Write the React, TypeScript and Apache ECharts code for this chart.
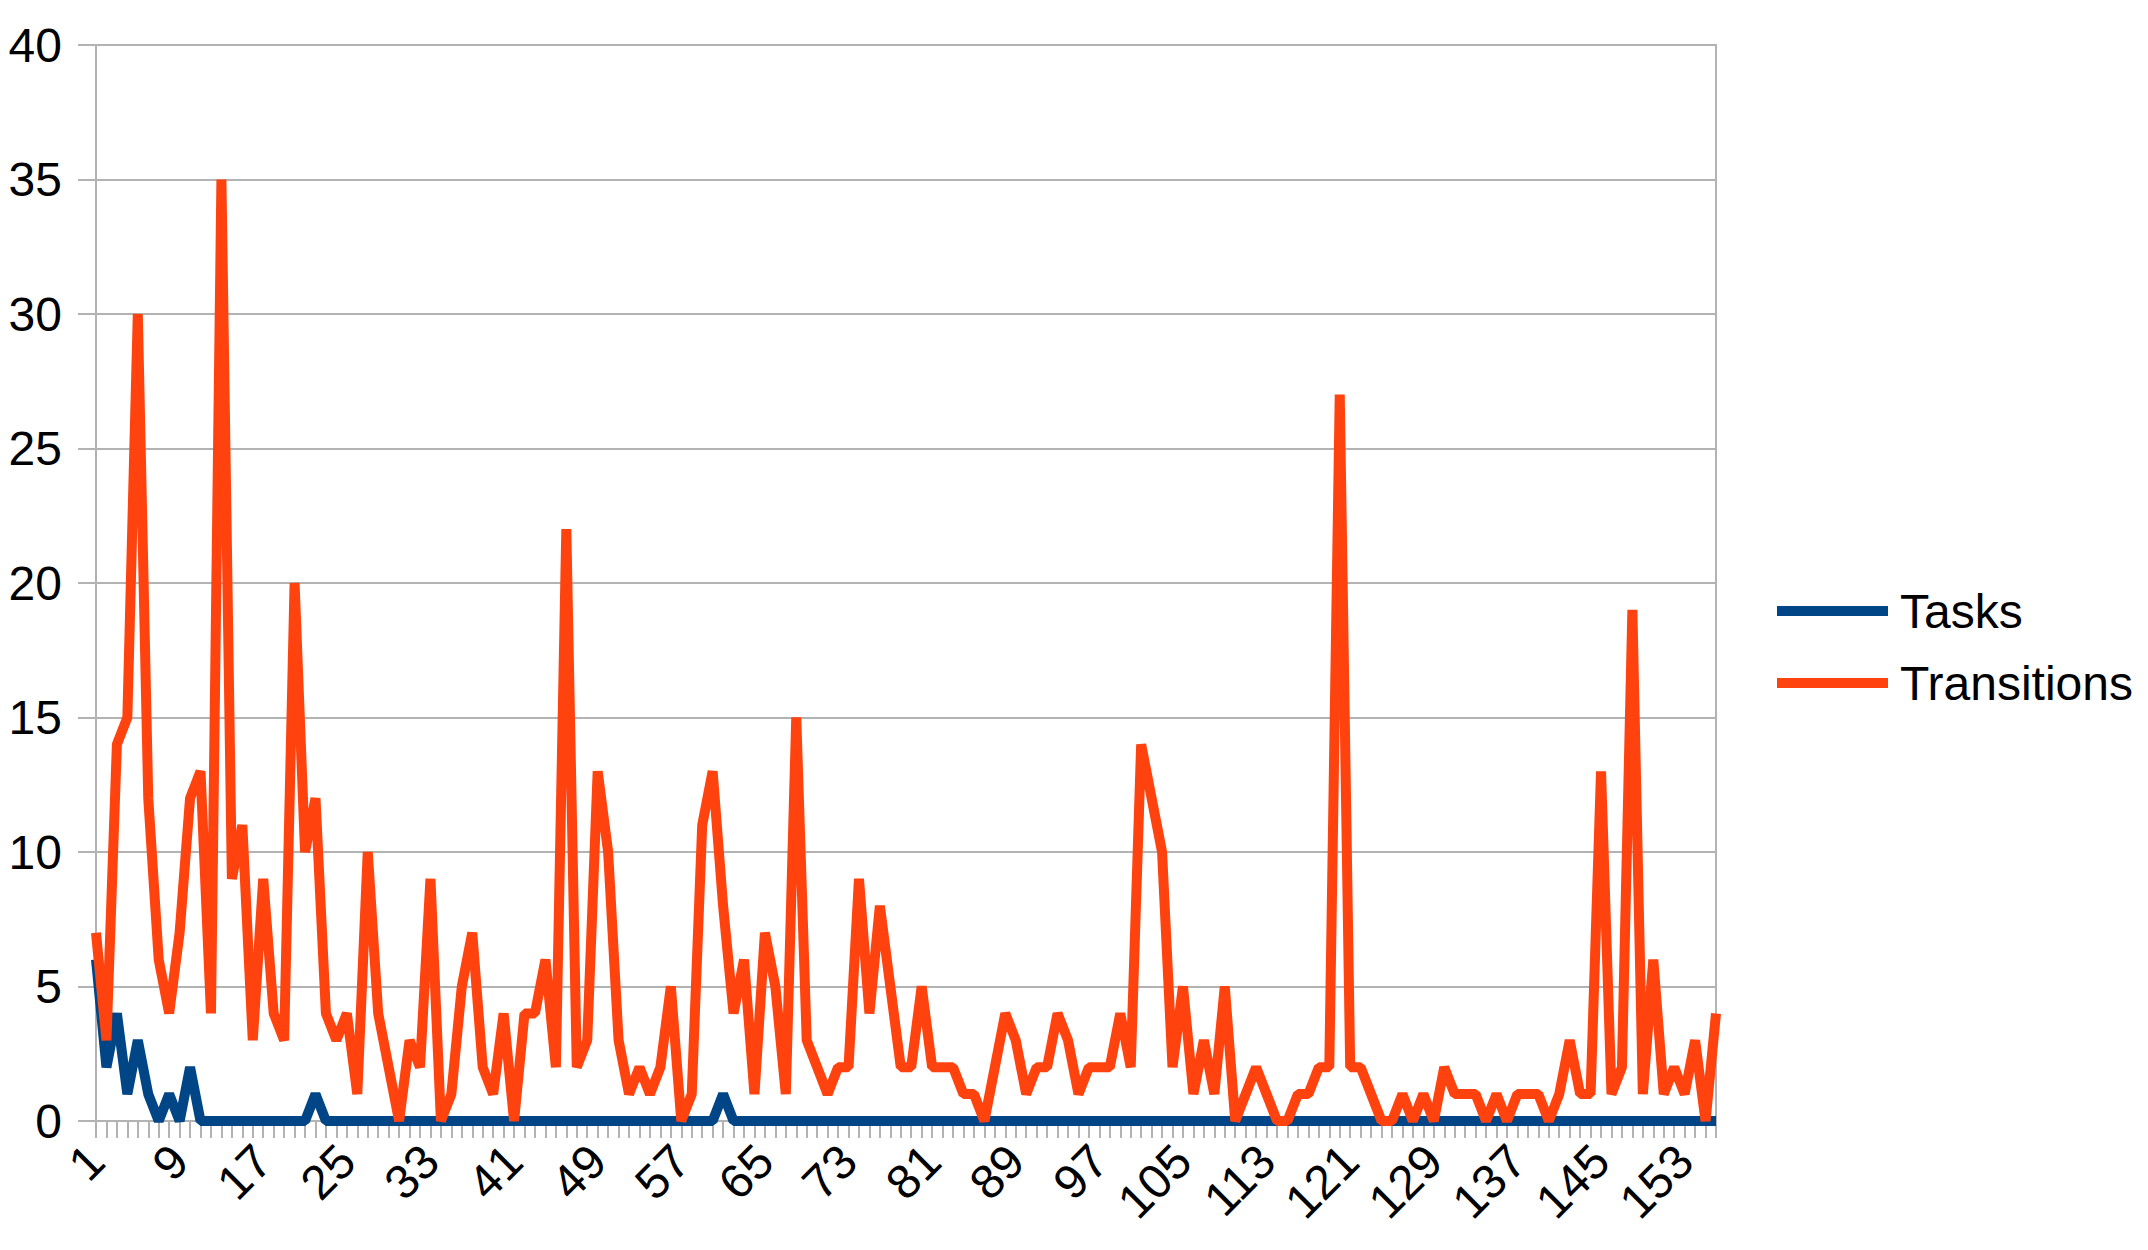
import React, { useEffect, useRef } from "react";
import * as echarts from "echarts";

const categories: string[] = Array.from({ length: 156 }, (_, i) => String(i + 1));

const tasks: number[] = [
  6, 2, 4, 1, 3, 1, 0, 1, 0, 2, 0, 0, 0, 0, 0, 0, 0, 0, 0, 0,
  0, 1, 0, 0, 0, 0, 0, 0, 0, 0, 0, 0, 0, 0, 0, 0, 0, 0, 0, 0,
  0, 0, 0, 0, 0, 0, 0, 0, 0, 0, 0, 0, 0, 0, 0, 0, 0, 0, 0, 0,
  1, 0, 0, 0, 0, 0, 0, 0, 0, 0, 0, 0, 0, 0, 0, 0, 0, 0, 0, 0,
  0, 0, 0, 0, 0, 0, 0, 0, 0, 0, 0, 0, 0, 0, 0, 0, 0, 0, 0, 0,
  0, 0, 0, 0, 0, 0, 0, 0, 0, 0, 0, 0, 0, 0, 0, 0, 0, 0, 0, 0,
  0, 0, 0, 0, 0, 0, 0, 0, 0, 0, 0, 0, 0, 0, 0, 0, 0, 0, 0, 0,
  0, 0, 0, 0, 0, 0, 0, 0, 0, 0, 0, 0, 0, 0, 0, 0,
];

const transitions: number[] = [
  7, 3, 14, 15, 30, 12, 6, 4, 7, 12, 13, 4, 35, 9, 11, 3, 9, 4, 3, 20,
  10, 12, 4, 3, 4, 1, 10, 4, 2, 0, 3, 2, 9, 0, 1, 5, 7, 2, 1, 4,
  0, 4, 4, 6, 2, 22, 2, 3, 13, 10, 3, 1, 2, 1, 2, 5, 0, 1, 11, 13,
  8, 4, 6, 1, 7, 5, 1, 15, 3, 2, 1, 2, 2, 9, 4, 8, 5, 2, 2, 5,
  2, 2, 2, 1, 1, 0, 2, 4, 3, 1, 2, 2, 4, 3, 1, 2, 2, 2, 4, 2,
  14, 12, 10, 2, 5, 1, 3, 1, 5, 0, 1, 2, 1, 0, 0, 1, 1, 2, 2, 27,
  2, 2, 1, 0, 0, 1, 0, 1, 0, 2, 1, 1, 1, 0, 1, 0, 1, 1, 1, 0,
  1, 3, 1, 1, 13, 1, 2, 19, 1, 6, 1, 2, 1, 3, 0, 4,
];

const seriesNames: string[] = ["Tasks", "Transitions"];
const seriesColors: string[] = ["#004586", "#ff420e"];

export default function App() {
  const ref = useRef<HTMLDivElement>(null);

  useEffect(() => {
    if (!ref.current) return;
    const chart = echarts.init(ref.current, undefined, { renderer: "svg" });
    const font = "Liberation Sans";
    const gray = "#b3b3b3";
    chart.setOption({
      animation: false,
      backgroundColor: "#ffffff",
      textStyle: { fontFamily: font },
      grid: {
        left: 96,
        right: 432,
        top: 45,
        bottom: 129,
        show: true,
        borderColor: gray,
        borderWidth: 2,
        backgroundColor: "transparent",
      },
      legend: {
        orient: "vertical",
        left: 1777,
        top: 586,
        padding: 0,
        itemGap: 22,
        itemWidth: 111,
        itemHeight: 10,
        icon: "rect",
        data: seriesNames,
        textStyle: {
          fontFamily: font,
          fontSize: 48,
          color: "#000",
          lineHeight: 50,
          padding: [0, 0, 0, 7],
        },
      },
      xAxis: {
        type: "category",
        data: categories,
        boundaryGap: false,
        axisLine: { show: true, lineStyle: { color: gray, width: 2 } },
        axisTick: {
          show: true,
          interval: 0,
          length: 17,
          lineStyle: { color: gray, width: 2 },
        },
        axisLabel: {
          interval: 7,
          rotate: 45,
          margin: 32,
          fontFamily: font,
          fontSize: 48,
          color: "#000",
        },
        splitLine: { show: false },
      },
      yAxis: {
        type: "value",
        min: 0,
        max: 40,
        interval: 5,
        axisLine: { show: true, lineStyle: { color: gray, width: 2 } },
        axisTick: { show: true, length: 18, lineStyle: { color: gray, width: 2 } },
        axisLabel: {
          margin: 34,
          fontFamily: font,
          fontSize: 48,
          color: "#000",
        },
        splitLine: { show: true, lineStyle: { color: gray, width: 2 } },
      },
      series: [
        {
          name: seriesNames[0],
          type: "line",
          data: tasks,
          symbol: "none",
          color: seriesColors[0],
          lineStyle: { width: 10, color: seriesColors[0] },
        },
        {
          name: seriesNames[1],
          type: "line",
          data: transitions,
          symbol: "none",
          color: seriesColors[1],
          lineStyle: { width: 10, color: seriesColors[1] },
        },
      ],
    });
    return () => chart.dispose();
  }, []);

  return (
    <div
      ref={ref}
      style={{ position: "fixed", left: 0, top: 0, width: 2148, height: 1250, background: "#fff" }}
    />
  );
}
